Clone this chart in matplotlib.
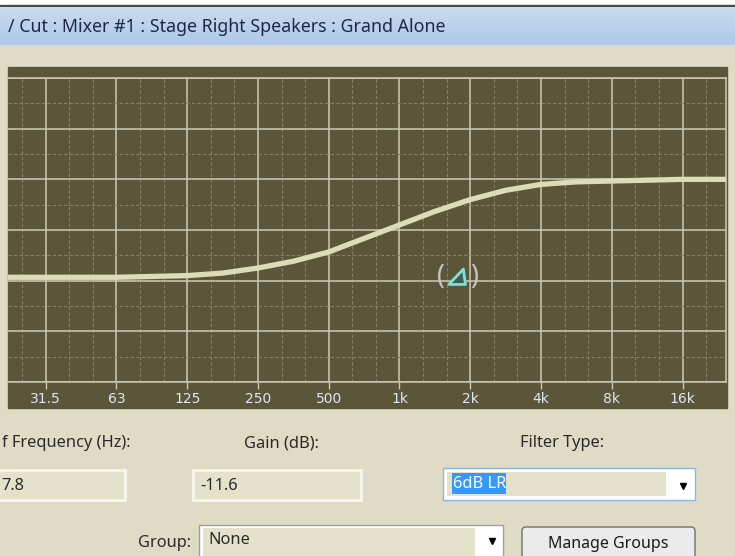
import numpy as np
import matplotlib.pyplot as plt
from matplotlib.patches import Rectangle, FancyBboxPatch
from matplotlib.colors import LinearSegmentedColormap
from matplotlib.ticker import FixedLocator, NullFormatter
from matplotlib.path import Path

# EQ response (Hz, dB)
freq = [21.6, 31.25, 44.2, 62.5, 88.4, 125, 177, 250, 354, 500, 707, 1000,
        1414, 2000, 2828, 4000, 5657, 8000, 11314, 16000, 24500]
gain = [-11.6, -11.6, -11.6, -11.6, -11.5, -11.4, -11.1, -10.5, -9.7, -8.6, -7.0, -5.4,
        -3.8, -2.4, -1.3, -0.6, -0.3, -0.2, -0.1, 0.0, 0.0]

tick_freq = [31.25, 62.5, 125, 250, 500, 1000, 2000, 4000, 8000, 16000]
tick_labels = ['31.5', '63', '125', '250', '500', '1k', '2k', '4k', '8k', '16k']

# filter handle
handle_freq = 1777.8
handle_gain = -11.6

title = '/ Cut : Mixer #1 : Stage Right Speakers : Grand Alone'
freq_text = '7.8'
gain_text = '-11.6'
filter_type = '6dB LR'
group = 'None'

plt.rcParams['font.family'] = ['Noto Sans', 'DejaVu Sans']

olive = '#5b5639'
major = '#cdc9b6'
minor = '#858169'
beige = '#e0dbc5'
field = '#e5e2cb'
ink = '#2a2a2a'
fs = 11.8

fig = plt.figure(figsize=(7.35, 5.56), dpi=100)
fig.patch.set_facecolor(beige)

# background / window chrome in pixel coords
bg = fig.add_axes([0, 0, 1, 1])
bg.set_xlim(0, 735)
bg.set_ylim(556, 0)
bg.axis('off')

bg.add_patch(Rectangle((0, 0), 735, 5, color='white'))
bg.add_patch(Rectangle((0, 5), 735, 2, color='#4a4a4a'))
grad = np.linspace(0, 1, 50).reshape(-1, 1)
cmap = LinearSegmentedColormap.from_list('bar', ['#c9dcf0', '#aec8e6'])
bg.imshow(grad, extent=(0, 735, 45, 7), aspect='auto', cmap=cmap, zorder=1)
bg.text(8, 27, title, fontsize=12.8, color='#1d2947', va='center', zorder=2)

bg.add_patch(Rectangle((8, 67), 719, 341, color=olive))

# fields
bg.text(2, 443, 'f Frequency (Hz):', fontsize=fs, color=ink, va='center')
bg.text(281, 443, 'Gain (dB):', fontsize=fs, color=ink, va='center', ha='center')
bg.text(562, 443, 'Filter Type:', fontsize=fs, color=ink, va='center', ha='center')

bg.add_patch(Rectangle((-5, 470), 130, 30, facecolor=field, edgecolor='#f7f6ef', lw=2))
bg.text(1, 486, freq_text, fontsize=fs, color=ink, va='center')
bg.add_patch(Rectangle((193, 470), 168, 30, facecolor=field, edgecolor='#f7f6ef', lw=2))
bg.text(200, 486, gain_text, fontsize=fs, color=ink, va='center')

bg.add_patch(Rectangle((443, 468), 252, 32, facecolor='white', edgecolor='#8fb3d9', lw=1))
bg.add_patch(Rectangle((447, 472), 219, 24, facecolor=field, edgecolor='none'))
bg.add_patch(Rectangle((452, 473), 54, 21, facecolor='#3399ff', edgecolor='none'))
bg.text(453, 484, filter_type, fontsize=fs, color='white', va='center')
bg.plot(683, 486, marker='v', color='black', ms=5)

bg.text(191, 543, 'Group:', fontsize=fs, color=ink, va='center', ha='right')
bg.add_patch(Rectangle((199, 525), 304, 40, facecolor='white', edgecolor='#a0a0a0', lw=1))
bg.add_patch(Rectangle((203, 528), 272, 30, facecolor=field, edgecolor='none'))
bg.text(208, 540, group, fontsize=fs, color=ink, va='center')
bg.plot(492, 541, marker='v', color='black', ms=5)

bg.add_patch(FancyBboxPatch((522, 527), 173, 40, boxstyle='round,pad=0,rounding_size=4',
                            facecolor='#ebebeb', edgecolor='#707070', lw=1))
bg.text(608, 544, 'Manage Groups', fontsize=11.5, color='#1a1a1a', va='center', ha='center')

# EQ chart
ax = fig.add_axes([8 / 735, (556 - 382) / 556, 718 / 735, 304 / 556])
ax.set_facecolor(olive)
ax.set_xscale('log')
ax.set_xlim(21.6, 24500)
ax.set_ylim(-24, 12)

ax.xaxis.set_major_locator(FixedLocator(tick_freq))
ax.set_xticklabels(tick_labels)
ax.xaxis.set_minor_locator(FixedLocator([1000 * 2 ** (k / 3) for k in range(-17, 14) if k % 3]))
ax.xaxis.set_minor_formatter(NullFormatter())
ax.set_yticks(range(-24, 13, 6))
ax.set_yticks(range(-21, 12, 6), minor=True)

ax.grid(which='major', color=major, lw=1.1)
ax.grid(which='minor', color=minor, lw=0.8, ls=(0, (3, 2)))
ax.set_axisbelow(True)

ax.tick_params(axis='y', which='both', length=0, labelleft=False)
ax.tick_params(axis='x', which='minor', length=0)
ax.tick_params(axis='x', which='major', length=5, width=1, color=major,
               labelcolor='#dde6f2', labelsize=10, pad=2)
for lab in ax.get_xticklabels():
    lab.set_family('DejaVu Sans')

ax.spines['left'].set_visible(False)
for s in ['top', 'bottom', 'right']:
    ax.spines[s].set_color(major)
    ax.spines[s].set_linewidth(1.1)

ax.plot(freq, gain, color='#dedbb8', lw=3.8, solid_capstyle='butt', zorder=3)

tri = Path([(-0.7, -0.5), (0.5, -0.5), (0.35, 0.6), (-0.7, -0.5)],
           [Path.MOVETO, Path.LINETO, Path.LINETO, Path.CLOSEPOLY])
ax.plot(handle_freq, handle_gain, marker=tri, ms=14, mfc='#3e5e52', mec='#7fe0d6',
        mew=2, zorder=4)
ax.annotate('(', (handle_freq, handle_gain), xytext=(-12.5, 0), textcoords='offset points',
            ha='center', va='center', fontsize=19, color='#c4c4c4', zorder=4)
ax.annotate(')', (handle_freq, handle_gain), xytext=(11.5, 0), textcoords='offset points',
            ha='center', va='center', fontsize=19, color='#c4c4c4', zorder=4)

fig.savefig('out.png', dpi=100)
